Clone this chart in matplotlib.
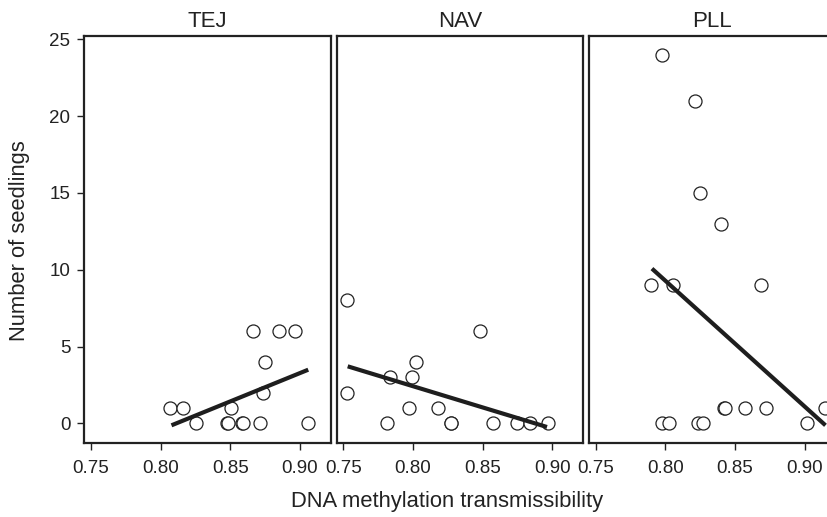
import numpy as np
import matplotlib
matplotlib.use("Agg")
import matplotlib.pyplot as plt

plt.rcParams['font.family'] = ['Liberation Sans', 'DejaVu Sans']

# --------------------------
# DATA
# --------------------------
panels = ['TEJ', 'NAV', 'PLL']

tej_x = [0.8066, 0.8162, 0.8254, 0.8475, 0.8487, 0.8506, 0.8584, 0.8595,
         0.8663, 0.8716, 0.8735, 0.8752, 0.8853, 0.8964, 0.9060]
tej_y = [1, 1, 0, 0, 0, 1, 0, 0, 6, 0, 2, 4, 6, 6, 0]

nav_x = [0.7524, 0.7524, 0.7813, 0.7837, 0.7970, 0.7996, 0.8020, 0.8180,
         0.8273, 0.8275, 0.8480, 0.8572, 0.8748, 0.8839, 0.8967]
nav_y = [8, 2, 0, 3, 1, 3, 4, 1, 0, 0, 6, 0, 0, 0, 0]

pll_x = [0.7976, 0.8214, 0.8250, 0.8397, 0.7899, 0.8056, 0.8688, 0.7976,
         0.8024, 0.8233, 0.8272, 0.8418, 0.8430, 0.8572, 0.8724, 0.9015, 0.9149]
pll_y = [24, 21, 15, 13, 9, 9, 9, 0, 0, 0, 0, 1, 1, 1, 1, 0, 1]

# fitted lines: end points
tej_fit_x = [0.8078, 0.9060]
tej_fit_y = [-0.13, 3.49]
nav_fit_x = [0.7531, 0.8962]
nav_fit_y = [3.71, -0.24]
pll_fit_x = [0.7904, 0.9150]
pll_fit_y = [10.07, -0.13]

x_ticks = [0.75, 0.80, 0.85, 0.90]
x_tick_labels = ['0.75', '0.80', '0.85', '0.90']
y_ticks = [0, 5, 10, 15, 20, 25]

data = [
    (tej_x, tej_y, tej_fit_x, tej_fit_y),
    (nav_x, nav_y, nav_fit_x, nav_fit_y),
    (pll_x, pll_y, pll_fit_x, pll_fit_y),
]

# --------------------------
# LAYOUT (pixel based, 828x517)
# --------------------------
W, H = 828, 517
fig = plt.figure(figsize=(W / 100, H / 100), dpi=100)

lefts = [84.3, 336.7, 589.0]
pw = 246.5
top, bot = 35.7, 443.3
ink = '#222222'

for i, (name, (xs, ys, fx, fy)) in enumerate(zip(panels, data)):
    ax = fig.add_axes([lefts[i] / W, (H - bot) / H, pw / W, (bot - top) / H])
    ax.scatter(xs, ys, s=88, facecolors='white', edgecolors=ink,
               linewidths=0.9, zorder=2, clip_on=True)
    ax.plot(fx, fy, color='#1e1e1e', lw=3.0, solid_capstyle='butt', zorder=3)

    ax.set_xlim(0.7452, 0.9222)
    ax.set_ylim(-1.30, 25.23)
    ax.set_xticks(x_ticks)
    ax.set_xticklabels(x_tick_labels)
    for sp in ax.spines.values():
        sp.set_linewidth(1.6)
        sp.set_color(ink)
    ax.tick_params(axis='x', direction='out', length=5, width=1.0,
                   color=ink, labelsize=13.5, labelcolor=ink, pad=7)
    if i == 0:
        ax.set_yticks(y_ticks)
        ax.tick_params(axis='y', direction='out', length=5, width=1.0,
                       color=ink, labelsize=13.5, labelcolor=ink, pad=5)
    else:
        ax.set_yticks([])
    ax.set_title(name, fontsize=16, color=ink, pad=6)

fig.text(19.5 / W, 1 - 241 / H, 'Number of seedlings', rotation=90,
         ha='center', va='center', fontsize=15.8, color=ink)
fig.text(447.5 / W, 1 - 502 / H, 'DNA methylation transmissibility',
         ha='center', va='center', fontsize=15.8, color=ink)

fig.savefig('out.png', dpi=100)
